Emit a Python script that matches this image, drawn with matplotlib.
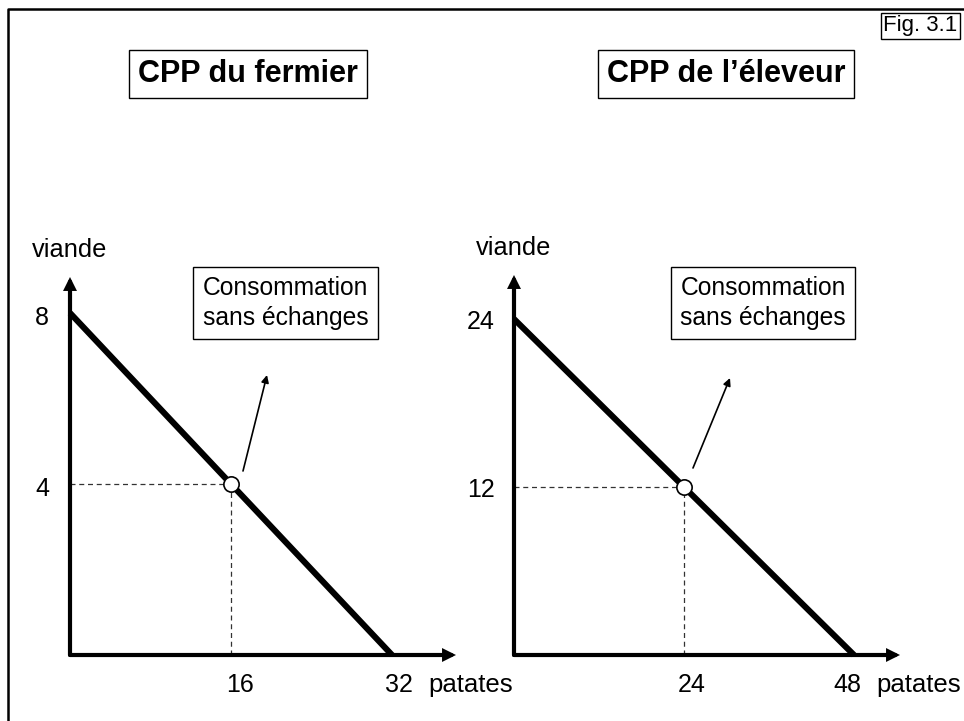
import matplotlib
matplotlib.use('Agg')
import matplotlib.pyplot as plt
from matplotlib.lines import Line2D

plt.rcParams['font.family'] = ['Liberation Sans', 'DejaVu Sans']

# ---------------- data ----------------
titles = ['CPP du fermier', 'CPP de l\u2019éleveur']
meat_max = [8, 24]          # intercept on the "viande" axis
potato_max = [32, 48]       # intercept on the "patates" axis
cons_potato = [16, 24]      # consumption without trade (patates)
cons_meat = [4, 12]         # consumption without trade (viande)
y_label = 'viande'
x_label = 'patates'
note_text = 'Consommation\nsans échanges'
fig_label = 'Fig. 3.1'

# ---------------- layout (pixels) ----------------
W, H = 964, 721
fig = plt.figure(figsize=(W / 100, H / 100), dpi=100)

def fx(x):
    return x / W

def fy(y):
    return 1 - y / H

panels = [
    dict(origin=(70, 655), xmax_px=392, ymax_px=313, tip=(456, 277),
         xoff=[9, 7], pat_off=36, yoff=(-28, -5),
         title_c=(248, 74), note_c=(285.5, 303),
         arrow_tail=(243, 471), arrow_tip=(267, 375)),
    dict(origin=(514, 655), xmax_px=854, ymax_px=319, tip=(900, 275),
         xoff=[8, -7], pat_off=22, yoff=(-33, -3),
         title_c=(726, 74), note_c=(763, 303),
         arrow_tail=(693, 468), arrow_tip=(730, 378)),
]

for i, p in enumerate(panels):
    ox, oy = p['origin']
    tx, ty = p['tip']
    ax = fig.add_axes([fx(ox), fy(oy), (tx - ox) / W, (oy - ty) / H])
    xs = potato_max[i] / (p['xmax_px'] - ox)   # data units per pixel
    ys = meat_max[i] / (oy - p['ymax_px'])
    ax.set_xlim(0, (tx - ox) * xs)
    ax.set_ylim(0, (oy - ty) * ys)
    ax.set_axis_off()

    # axes with arrows
    ap = dict(arrowstyle='-|>', mutation_scale=13, lw=3.0, fc='black',
              ec='black', shrinkA=0, shrinkB=0, joinstyle='miter')
    ax.annotate('', xy=(1, 0), xytext=(0, 0), xycoords='axes fraction',
                arrowprops=ap, annotation_clip=False)
    ax.annotate('', xy=(0, 1), xytext=(0, 0), xycoords='axes fraction',
                arrowprops=ap, annotation_clip=False)

    # PPF line
    ax.plot([0, potato_max[i]], [meat_max[i], 0], color='black', lw=4.4,
            solid_capstyle='butt', clip_on=False, zorder=3)

    # dashed guides
    cx, cy = cons_potato[i], cons_meat[i]
    ax.plot([0, cx], [cy, cy], color='#333333', lw=0.9, ls=(0, (4, 3)),
            clip_on=False, zorder=2)
    ax.plot([cx, cx], [0, cy], color='#333333', lw=0.9, ls=(0, (4, 3)),
            clip_on=False, zorder=2)

    # consumption point
    ax.plot([cx], [cy], marker='o', ms=11, mfc='white', mec='black',
            mew=1.2, zorder=5, clip_on=False)

    # pointer arrow to the note
    tlx, tly = p['arrow_tail']
    tpx, tpy = p['arrow_tip']
    ax.annotate('', xy=((tpx - ox) * xs, (oy - tpy) * ys),
                xytext=((tlx - ox) * xs, (oy - tly) * ys),
                arrowprops=dict(arrowstyle='-|>', mutation_scale=11, lw=1.2,
                                fc='black', ec='black', shrinkA=0, shrinkB=0),
                annotation_clip=False)

    # x value labels
    for j, v in enumerate([cons_potato[i], potato_max[i]]):
        ax.annotate(str(v), xy=(v, 0), xytext=(p['xoff'][j], -30),
                    textcoords='offset pixels', ha='center', va='center',
                    fontsize=18, annotation_clip=False)
    ax.annotate(x_label, xy=(potato_max[i], 0), xytext=(p['pat_off'], -30),
                textcoords='offset pixels', ha='left', va='center',
                fontsize=18.5, annotation_clip=False)

    # y value labels
    for v in [meat_max[i], cons_meat[i]]:
        ax.annotate(str(v), xy=(0, v), xytext=p['yoff'],
                    textcoords='offset pixels', ha='center', va='center',
                    fontsize=18, annotation_clip=False)
    ax.annotate(y_label, xy=(0, 1), xycoords='axes fraction',
                xytext=(0, 20), textcoords='offset pixels', ha='center',
                va='baseline', fontsize=18.3, annotation_clip=False)

    # title box
    fig.text(fx(p['title_c'][0]), fy(p['title_c'][1]), titles[i],
             fontsize=22, fontweight='bold', ha='center', va='center',
             bbox=dict(boxstyle='square,pad=0.3', fc='white', ec='black',
                       lw=1.0))
    # note box
    fig.text(fx(p['note_c'][0]), fy(p['note_c'][1]), note_text,
             fontsize=17.7, ha='center', va='center', multialignment='center',
             linespacing=1.3,
             bbox=dict(boxstyle='square,pad=0.38', fc='white', ec='black',
                       lw=1.0))

# figure label
fig.text(fx(920.5), fy(26), fig_label, fontsize=16, ha='center',
         va='center', bbox=dict(boxstyle='square,pad=0.1', fc='white',
                                ec='black', lw=1.0))

# frame (left and top edges)
fig.add_artist(Line2D([fx(8), fx(8), fx(964)], [fy(721), fy(9), fy(9)],
                      color='black', lw=1.8, transform=fig.transFigure))

fig.savefig('out.png', dpi=100)
